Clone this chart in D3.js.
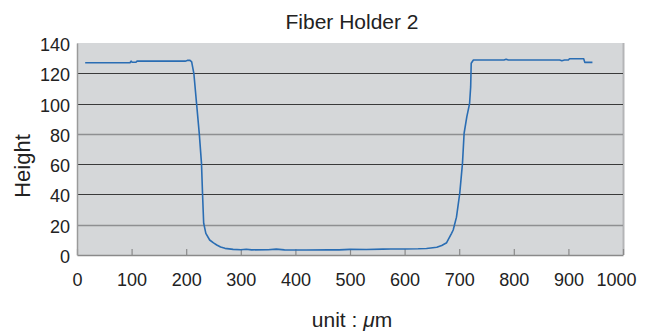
<!DOCTYPE html>
<html>
<head>
<meta charset="utf-8">
<script src="https://cdn.jsdelivr.net/npm/d3@7"></script>
<style>
  body { margin: 0; background: #fff; }
  text { font-family: "Liberation Sans", Arial, sans-serif; fill: #222; }
</style>
</head>
<body>
<div id="chart"></div>
<script>
// Profile of the holder (position in um, height)
const positions = [15, 60, 97, 99, 101, 108, 110, 150, 198, 202, 207, 210, 214, 219, 224, 228, 230, 232, 236, 243,
    250, 256, 263, 271, 286, 300, 310, 320, 350, 365, 380, 420, 460, 480, 500, 530, 560, 575, 600, 625,
    640, 648, 659, 668, 677, 686, 689, 695, 701, 706, 709, 714, 719, 721, 722, 726, 760, 782, 786, 790,
    850, 884, 888, 893, 900, 902, 928, 930, 932, 944];
const heights = [127, 127, 127, 128, 127.3, 127.3, 128, 128, 128, 128.5, 128.5, 127.5, 120, 100, 80, 60.5, 39.6, 21, 14.3, 9.9,
    8, 6.6, 5.3, 4.4, 3.7, 3.5, 3.8, 3.4, 3.5, 3.9, 3.4, 3.3, 3.5, 3.4, 3.7, 3.6, 3.9, 4.0, 4.0, 4.1,
    4.3, 4.6, 5.1, 6.3, 8.1, 14.3, 16.5, 25, 40.7, 60.5, 80.4, 91.4, 100, 111, 126.6, 128.8, 128.8, 128.8, 129.3, 128.8,
    128.8, 128.8, 128.3, 128.8, 128.8, 129.6, 129.6, 127.2, 127.2, 127.2];

const xTicks = [0, 100, 200, 300, 400, 500, 600, 700, 800, 900, 1000];
const yTicks = [0, 20, 40, 60, 80, 100, 120, 140];
const lightGrid = [20, 80];   // these two lines come out paler in the original

const W = 651, H = 333;
const margin = { top: 43, right: 28, bottom: 78, left: 77 };

const svg = d3.select("#chart").append("svg")
    .attr("width", W)
    .attr("height", H);

const x = d3.scaleLinear().domain([0, 1000]).range([margin.left, W - margin.right]);
const y = d3.scaleLinear().domain([0, 140]).range([H - margin.bottom, margin.top]);

// plot area
svg.append("rect")
    .attr("x", x(0))
    .attr("y", y(140))
    .attr("width", x(1000) - x(0))
    .attr("height", y(0) - y(140))
    .attr("fill", "#d5d7d9");

// right edge shadow
svg.append("line")
    .attr("x1", x(1000) + 0.5).attr("x2", x(1000) + 0.5)
    .attr("y1", y(140)).attr("y2", y(0))
    .attr("stroke", "#b4b5b7")
    .attr("stroke-width", 2);

// horizontal grid lines
svg.append("g")
    .selectAll("line")
    .data(yTicks.filter(d => d > 0 && d < 140))
    .enter()
    .append("line")
    .attr("x1", x(0)).attr("x2", x(1000))
    .attr("y1", d => Math.round(y(d)) + 0.5)
    .attr("y2", d => Math.round(y(d)) + 0.5)
    .attr("stroke", d => lightGrid.includes(d) ? "#8e8f91" : "#3a3a3a")
    .attr("stroke-width", d => lightGrid.includes(d) ? 1.3 : 1);

// x axis: ticks point up into the plot
const xAxis = svg.append("g")
    .attr("transform", `translate(0,${y(0)})`)
    .call(d3.axisBottom(x).tickValues(xTicks).tickFormat(d3.format("d"))
        .tickSizeInner(-6).tickSizeOuter(0).tickPadding(18));
xAxis.select(".domain").attr("stroke", "#8a8a8a").attr("stroke-width", 1.5);
xAxis.selectAll(".tick line").attr("stroke", "#8a8a8a").attr("stroke-width", 1.2);
xAxis.selectAll(".tick text")
    .style("font-size", "18px")
    .attr("fill", "#222")
    .attr("dx", d => d === 1000 ? -7 : 0);

// y axis
const yAxis = svg.append("g")
    .attr("transform", `translate(${x(0)},0)`)
    .call(d3.axisLeft(y).tickValues(yTicks).tickSize(0).tickPadding(7));
yAxis.select(".domain").attr("stroke", "#9a9a9a").attr("stroke-width", 1.5);
yAxis.selectAll(".tick text")
    .style("font-size", "18px")
    .attr("fill", "#222")
    .attr("dy", "0.42em");

// profile line
const line = d3.line()
    .x((d, i) => x(positions[i]))
    .y(d => y(d));

svg.append("path")
    .datum(heights)
    .attr("fill", "none")
    .attr("stroke", "#2a6db3")
    .attr("stroke-width", 1.6)
    .attr("stroke-linejoin", "round")
    .attr("d", line);

// title and axis labels
svg.append("text")
    .attr("x", 352)
    .attr("y", 29)
    .attr("text-anchor", "middle")
    .style("font-size", "21px")
    .text("Fiber Holder 2");

svg.append("text")
    .attr("transform", "translate(30,166) rotate(-90)")
    .attr("text-anchor", "middle")
    .style("font-size", "22px")
    .text("Height");

const xLabel = svg.append("text")
    .attr("x", 352)
    .attr("y", 327)
    .attr("text-anchor", "middle")
    .style("font-size", "21px");
xLabel.append("tspan").text("unit : ");
xLabel.append("tspan").style("font-style", "italic").text("μ");
xLabel.append("tspan").text("m");
</script>
</body>
</html>
